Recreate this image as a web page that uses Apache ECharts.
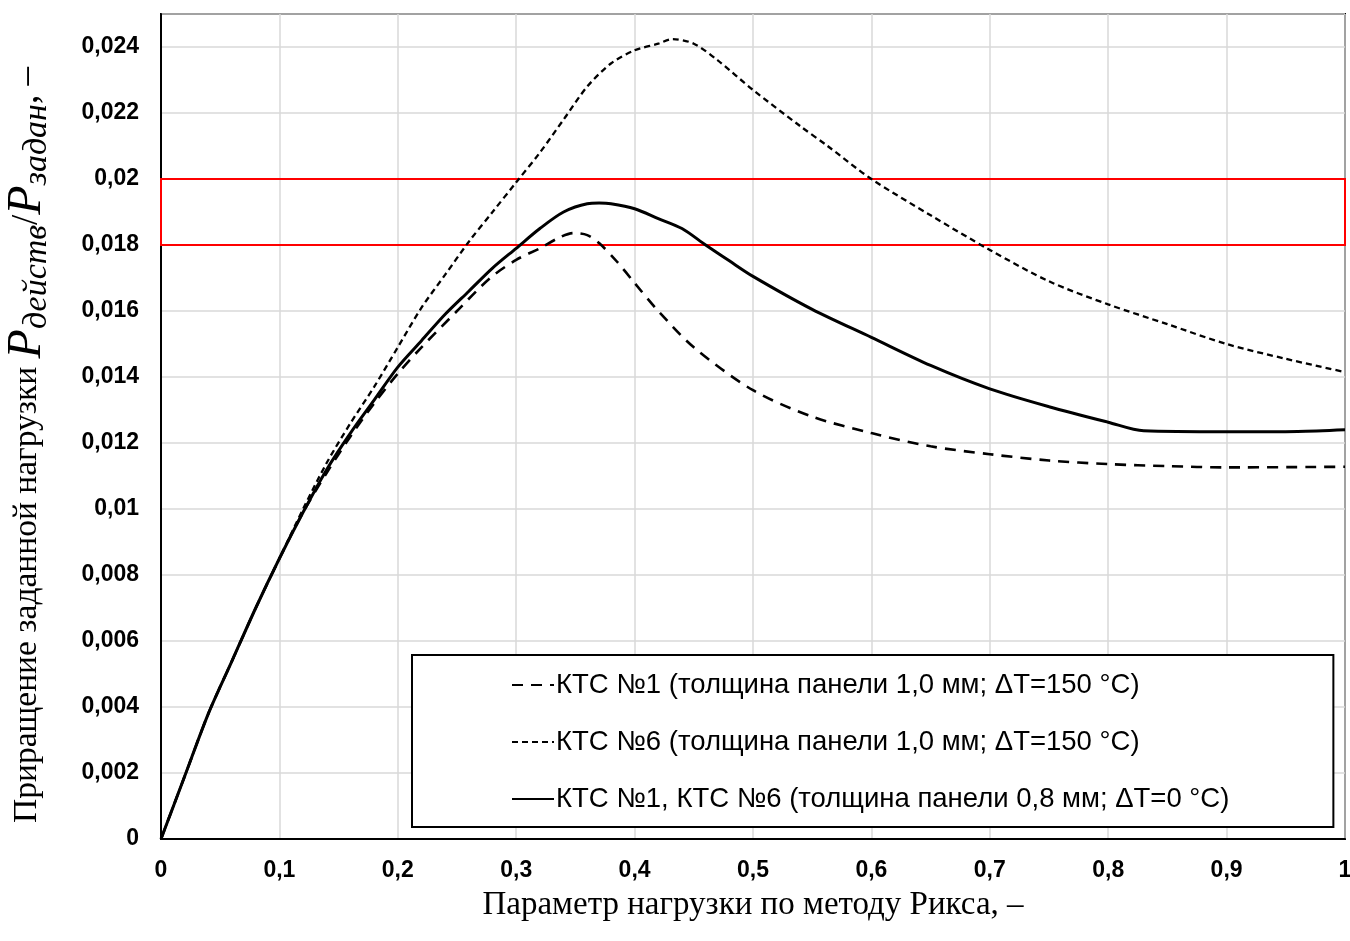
<!DOCTYPE html>
<html>
<head>
<meta charset="utf-8">
<script src="https://cdn.jsdelivr.net/npm/echarts@6/dist/echarts.min.js"></script>
<style>
  html, body { margin: 0; padding: 0; background: #fff; }
  #chart { width: 1350px; height: 941px; }
</style>
</head>
<body>
<div id="chart"></div>
<script>
// КТС №1 (толщина панели 1,0 мм; ΔT=150 °C)
var xKtc1 = [0, 0.02, 0.04, 0.06, 0.08, 0.1, 0.12, 0.14, 0.16, 0.18, 0.2, 0.22, 0.25, 0.278, 0.3, 0.32, 0.335, 0.348, 0.36, 0.37, 0.385, 0.4, 0.42, 0.45, 0.5, 0.55, 0.6, 0.65, 0.7, 0.75, 0.8, 0.85, 0.9, 1.0];
var yKtc1 = [0, 0.0019, 0.0038, 0.0054, 0.0070, 0.0085, 0.0099, 0.0111, 0.0122, 0.0132, 0.0141, 0.0149, 0.0160, 0.0170, 0.01755, 0.0179, 0.0182, 0.01836, 0.0183, 0.01806, 0.0175, 0.01685, 0.0160, 0.0149, 0.0136, 0.0128, 0.0123, 0.0119, 0.01166, 0.01147, 0.01136, 0.0113, 0.01126, 0.01128];

// КТС №6 (толщина панели 1,0 мм; ΔT=150 °C)
var xKtc6 = [0, 0.02, 0.04, 0.06, 0.08, 0.1, 0.12, 0.14, 0.16, 0.18, 0.2, 0.22, 0.24, 0.26, 0.28, 0.3, 0.32, 0.34, 0.36, 0.38, 0.4, 0.42, 0.432, 0.45, 0.47, 0.5, 0.54, 0.563, 0.6, 0.65, 0.7, 0.75, 0.8, 0.85, 0.9, 0.95, 1.0];
var yKtc6 = [0, 0.0019, 0.0038, 0.0054, 0.0070, 0.0085, 0.0100, 0.0114, 0.0126, 0.0137, 0.0149, 0.0161, 0.0171, 0.0181, 0.0190, 0.0199, 0.0208, 0.0218, 0.0228, 0.0235, 0.0239, 0.0241, 0.02424, 0.0241, 0.0236, 0.0227, 0.0216, 0.0210, 0.0200, 0.0189, 0.01785, 0.0169, 0.0162, 0.0156, 0.0150, 0.01455, 0.01415];

// КТС №1, КТС №6 (толщина панели 0,8 мм; ΔT=0 °C)
var xBase = [0, 0.02, 0.04, 0.06, 0.08, 0.1, 0.12, 0.14, 0.16, 0.18, 0.2, 0.22, 0.24, 0.26, 0.28, 0.3, 0.32, 0.34, 0.36, 0.37, 0.38, 0.4, 0.42, 0.44, 0.46, 0.48, 0.5, 0.55, 0.6, 0.65, 0.7, 0.75, 0.8, 0.83, 0.9, 0.96, 1.0];
var yBase = [0, 0.0019, 0.0038, 0.0054, 0.0070, 0.0085, 0.0099, 0.0112, 0.0123, 0.0133, 0.0143, 0.0151, 0.0159, 0.0166, 0.0173, 0.0179, 0.0185, 0.0190, 0.01925, 0.01927, 0.01925, 0.0191, 0.0188, 0.0185, 0.0180, 0.01752, 0.01705, 0.01605, 0.0152, 0.01435, 0.01364, 0.0131, 0.01263, 0.01237, 0.01234, 0.01235, 0.0124];

var seriesNames = [
  'КТС №1 (толщина панели 1,0 мм; ΔТ=150 °С)',
  'КТС №6 (толщина панели 1,0 мм; ΔТ=150 °С)',
  'КТС №1, КТС №6 (толщина панели 0,8 мм; ΔТ=0 °С)'
];

// допустимая зона (красная рамка)
var bandY = [0.018, 0.02];

function pairs(xs, ys) {
  var res = [];
  for (var i = 0; i < xs.length; i++) {
    res.push([xs[i], ys[i]]);
  }
  return res;
}

function comma(v) {
  return String(+v.toFixed(4)).replace('.', ',');
}

var myChart = echarts.init(document.getElementById('chart'));

var option = {
  animation: false,
  backgroundColor: '#fff',
  grid: {
    left: 161, right: 5, top: 14, bottom: 102,
    outerBoundsMode: 'none', containLabel: false,
    show: true, borderColor: '#000', borderWidth: 2, backgroundColor: '#fff'
  },
  xAxis: {
    type: 'value', min: 0, max: 1, interval: 0.1,
    name: 'Параметр нагрузки по методу Рикса, –',
    nameLocation: 'middle', nameGap: 50,
    nameTextStyle: { fontFamily: 'Liberation Serif', fontSize: 33, color: '#000' },
    axisLine: { show: true, lineStyle: { color: '#000', width: 2 } },
    axisTick: { show: false },
    axisLabel: {
      formatter: comma, margin: 20, color: '#000',
      fontFamily: 'Liberation Sans', fontWeight: 'bold', fontSize: 23
    },
    splitLine: { show: true, lineStyle: { color: '#d9d9d9', width: 1.5 } }
  },
  yAxis: {
    type: 'value', min: 0, max: 0.025, interval: 0.002,
    name: 'Приращение заданной нагрузки {i|P}{s|действ}{n|/}{i|P}{s|задан}{n|, –}',
    nameLocation: 'middle', nameGap: 107, nameRotate: 90,
    nameTextStyle: {
      fontFamily: 'Liberation Serif', fontSize: 33.5, color: '#000',
      padding: [0, 37, 0, 0],
      rich: {
        i: { fontFamily: 'Liberation Serif', fontStyle: 'italic', fontSize: 48, color: '#000' },
        s: { fontFamily: 'Liberation Serif', fontStyle: 'italic', fontSize: 34, color: '#000', padding: [20, 0, 0, 0] },
        n: { fontFamily: 'Liberation Serif', fontSize: 37, color: '#000' }
      }
    },
    axisLine: { show: true, lineStyle: { color: '#000', width: 2 } },
    axisTick: { show: false },
    axisLabel: {
      formatter: comma, margin: 22, color: '#000', showMaxLabel: false,
      fontFamily: 'Liberation Sans', fontWeight: 'bold', fontSize: 23
    },
    splitLine: { show: true, lineStyle: { color: '#d9d9d9', width: 1.5 } }
  },
  legend: {
    orient: 'vertical', left: 412, top: 655,
    backgroundColor: '#fff', borderColor: '#000', borderWidth: 2, borderRadius: 0,
    padding: [15, 104, 13, 99],
    itemWidth: 42, itemHeight: 14, itemGap: 27,
    itemStyle: { color: 'rgba(0,0,0,0)', borderColor: 'rgba(0,0,0,0)', borderWidth: 0 },
    textStyle: { fontFamily: 'Liberation Sans', fontSize: 27.5, color: '#000', lineHeight: 30, padding: [0, 0, 0, -3] },
    data: seriesNames
  },
  series: [
    {
      name: seriesNames[0], type: 'line', showSymbol: false, symbol: 'none',
      smooth: 0.3, color: '#000',
      lineStyle: { color: '#000', width: 2.6, type: [11, 8] },
      data: pairs(xKtc1, yKtc1)
    },
    {
      name: seriesNames[1], type: 'line', showSymbol: false, symbol: 'none',
      smooth: 0.3, color: '#000',
      lineStyle: { color: '#000', width: 2.3, type: [6, 4] },
      data: pairs(xKtc6, yKtc6)
    },
    {
      name: seriesNames[2], type: 'line', showSymbol: false, symbol: 'none',
      smooth: 0.3, color: '#000',
      lineStyle: { color: '#000', width: 3, type: 'solid' },
      data: pairs(xBase, yBase),
      markArea: {
        silent: true,
        itemStyle: { color: 'rgba(0,0,0,0)', borderColor: '#ff0000', borderWidth: 2 },
        data: [[{ xAxis: 0, yAxis: bandY[0] }, { xAxis: 1, yAxis: bandY[1] }]]
      }
    }
  ]
};

myChart.setOption(option);
</script>
</body>
</html>
